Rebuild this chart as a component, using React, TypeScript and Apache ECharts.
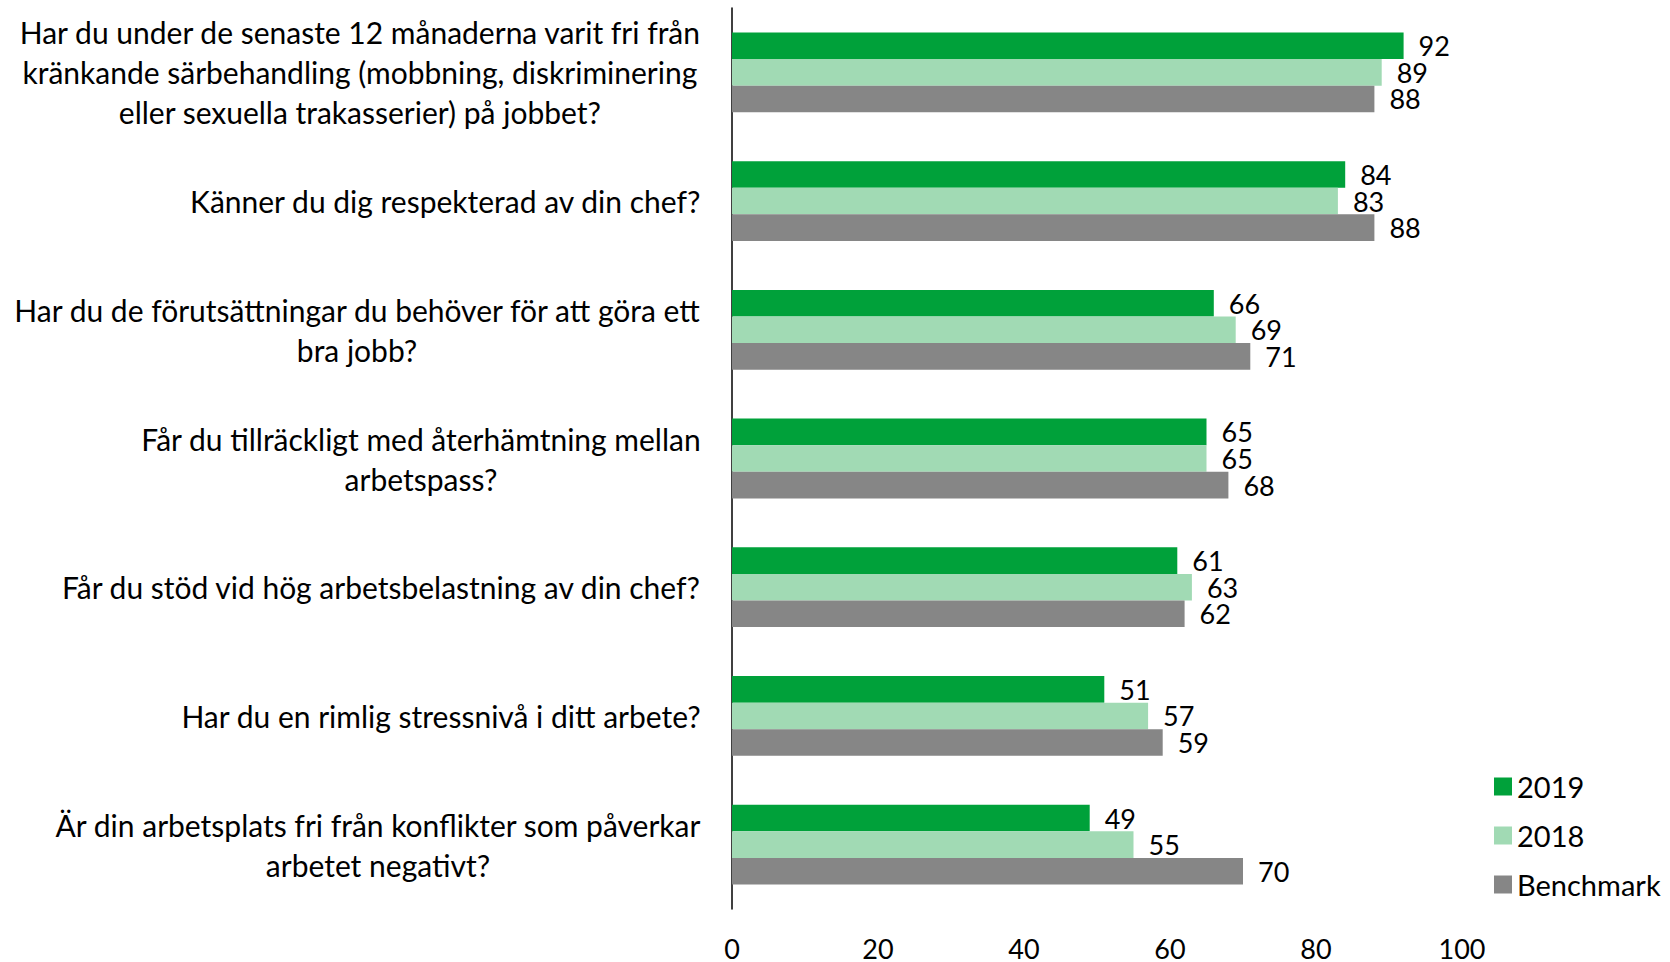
import React, { useEffect, useRef } from "react";
import * as echarts from "echarts";

const categories = [
  "Har du under de senaste 12 månaderna varit fri från\nkränkande särbehandling (mobbning, diskriminering\neller sexuella trakasserier) på jobbet?",
  "Känner du dig respekterad av din chef?",
  "Har du de förutsättningar du behöver för att göra ett\nbra jobb?",
  "Får du tillräckligt med återhämtning mellan\narbetspass?",
  "Får du stöd vid hög arbetsbelastning av din chef?",
  "Har du en rimlig stressnivå i ditt arbete?",
  "Är din arbetsplats fri från konflikter som påverkar\narbetet negativt?",
];

const values2019 = [92, 84, 66, 65, 61, 51, 49];
const values2018 = [89, 83, 69, 65, 63, 57, 55];
const valuesBenchmark = [88, 88, 71, 68, 62, 59, 70];

const seriesNames = ["2019", "2018", "Benchmark"];
const seriesColors = ["#00A13A", "#A1DAB4", "#868686"];

const FONT = "Lato";
const FS_TEXT = 30;
const FS_NUM = 27;

export default function App() {
  const ref = useRef<HTMLDivElement>(null);
  useEffect(() => {
    document.body.style.margin = "0";
    if (!ref.current) return;
    const chart = echarts.init(ref.current, undefined, { renderer: "svg" });
    const data = [values2019, values2018, valuesBenchmark];
    chart.setOption({
      animation: false,
      textStyle: { fontFamily: FONT, color: "#000" },
      grid: { left: 732, right: 208, top: 8, height: 901, containLabel: false },
      legend: {
        orient: "vertical",
        left: 1489,
        top: 767,
        itemWidth: 18,
        itemHeight: 18,
        itemGap: 20,
        icon: "rect",
        textStyle: { fontFamily: FONT, fontSize: 29, color: "#000" },
        data: seriesNames,
      },
      xAxis: {
        type: "value",
        min: 0,
        max: 100,
        interval: 20,
        axisLine: { show: false },
        axisTick: { show: false },
        splitLine: { show: false },
        axisLabel: {
          fontFamily: FONT,
          fontSize: FS_NUM,
          lineHeight: 16,
          color: "#000",
          margin: 31,
        },
      },
      yAxis: {
        type: "category",
        inverse: true,
        data: categories,
        axisLine: { show: true, lineStyle: { color: "#000", width: 1.5 } },
        axisTick: { show: false },
        axisLabel: {
          margin: 31,
          interval: 0,
          formatter: (v: string) =>
            v
              .split("\n")
              .map((l) => `{c|${l}}`)
              .join("\n"),
          rich: {
            c: {
              align: "center",
              fontFamily: FONT,
              fontSize: FS_TEXT,
              lineHeight: 40,
              color: "#000",
            },
          },
        },
      },
      series: seriesNames.map((name, i) => ({
        name,
        type: "bar",
        data: data[i],
        barGap: "0%",
        barCategoryGap: "38%",
        itemStyle: { color: seriesColors[i] },
        label: {
          show: true,
          position: "right",
          distance: 15,
          fontFamily: FONT,
          fontSize: FS_NUM,
          lineHeight: 24,
          color: "#000",
        },
      })),
    });
    return () => chart.dispose();
  }, []);
  return <div ref={ref} style={{ width: 1670, height: 962 }} />;
}
